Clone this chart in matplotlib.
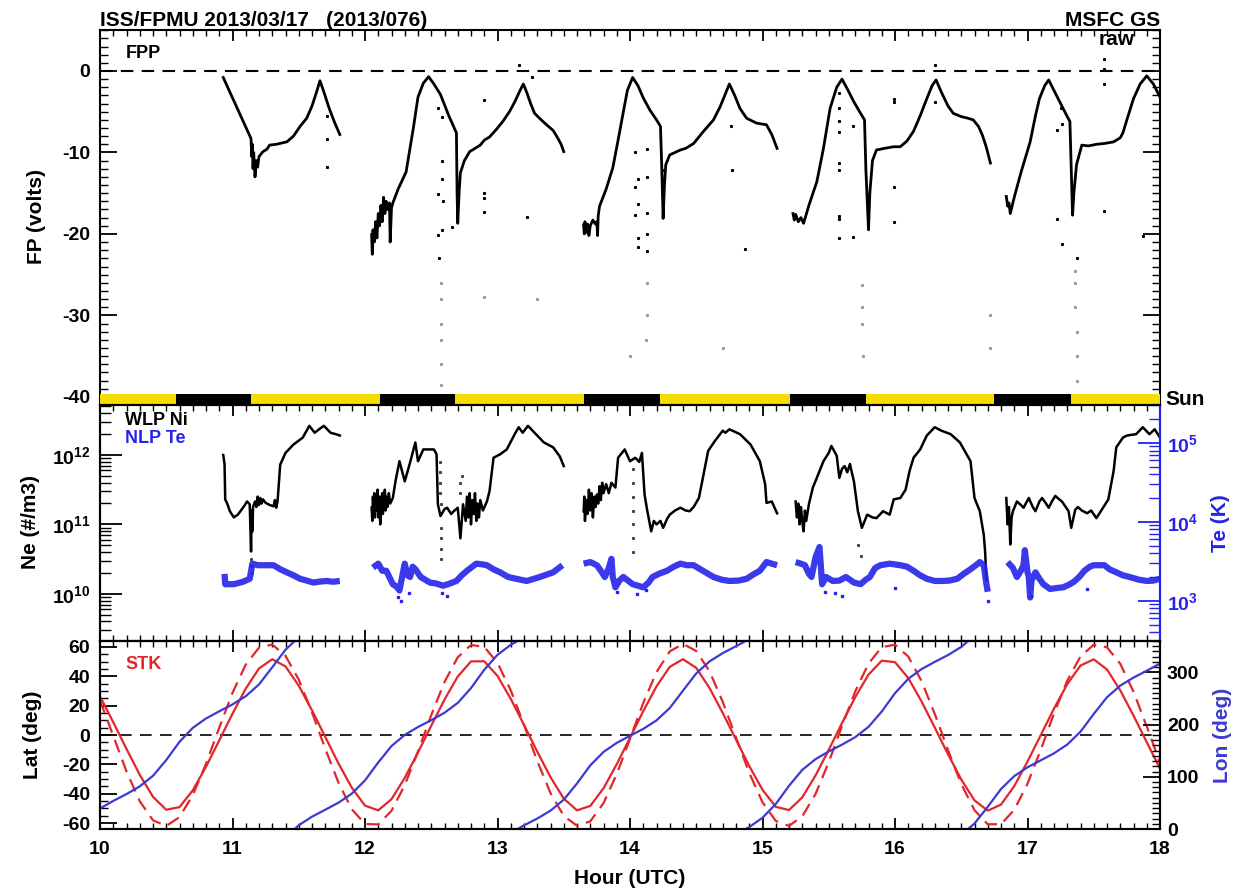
import numpy as np
import matplotlib
matplotlib.use('Agg')
import matplotlib.pyplot as plt
from matplotlib.ticker import MultipleLocator, LogLocator, NullFormatter, FixedLocator

plt.rcParams['font.family'] = ['Liberation Sans', 'DejaVu Sans']
plt.rcParams['font.weight'] = 'bold'
plt.rcParams['axes.unicode_minus'] = False
plt.rcParams['mathtext.fontset'] = 'custom'
plt.rcParams['mathtext.rm'] = 'Liberation Sans:bold'
plt.rcParams['mathtext.it'] = 'Liberation Sans:bold'
plt.rcParams['mathtext.bf'] = 'Liberation Sans:bold'
plt.rcParams['mathtext.default'] = 'rm'

RED = '#e2262b'
BLUE = '#3b3bd0'
TEBLUE = '#2424ea'
YELLOW = '#f7dc00'

# ---------------- floating potential (hour, volts), one list pair per pass
fp_a_t = [10.93, 11.14, 11.145, 11.15, 11.155, 11.16, 11.17, 11.18, 11.19, 11.2, 11.23, 11.26, 11.28, 11.33, 11.41, 11.46, 11.51, 11.56, 11.60, 11.63, 11.66, 11.69, 11.73, 11.77, 11.81]
fp_a_v = [-0.8, -8.3, -10.5, -9.0, -12.0, -10.0, -13.0, -11.0, -11.8, -10.5, -9.9, -9.6, -9.1, -9.0, -8.7, -8.0, -6.8, -5.8, -4.3, -2.8, -1.2, -2.6, -4.6, -6.3, -7.8]
fp_b_t = [12.05, 12.055, 12.06, 12.07, 12.08, 12.09, 12.10, 12.11, 12.12, 12.13, 12.14, 12.15, 12.16, 12.17, 12.185, 12.19, 12.2, 12.21, 12.25, 12.31, 12.365, 12.40, 12.44, 12.48, 12.52, 12.57, 12.63, 12.69, 12.695, 12.70, 12.71, 12.72, 12.75, 12.79, 12.83, 12.87, 12.9, 12.94, 12.99, 13.04, 13.09, 13.13, 13.17, 13.195, 13.22, 13.25, 13.28, 13.33, 13.37, 13.42, 13.45, 13.48, 13.50]
fp_b_v = [-20.1, -22.5, -19.5, -21.0, -18.5, -20.5, -17.5, -19.0, -16.5, -18.5, -15.5, -17.5, -16.0, -17.0, -16.2, -21.0, -16.8, -16.2, -14.5, -12.4, -7.0, -3.2, -1.5, -0.7, -1.6, -2.9, -5.4, -7.6, -15.0, -18.7, -15.0, -12.5, -11.0, -9.9, -9.5, -9.1, -8.5, -8.1, -7.2, -6.2, -5.0, -3.8, -2.4, -1.6, -2.6, -4.0, -5.2, -6.0, -6.6, -7.3, -8.1, -9.0, -9.9]
fp_c_t = [13.65, 13.655, 13.66, 13.67, 13.68, 13.69, 13.70, 13.72, 13.74, 13.75, 13.755, 13.76, 13.77, 13.82, 13.87, 13.91, 13.95, 13.98, 14.02, 14.06, 14.10, 14.15, 14.20, 14.23, 14.24, 14.25, 14.26, 14.27, 14.30, 14.34, 14.38, 14.42, 14.48, 14.55, 14.63, 14.68, 14.72, 14.75, 14.79, 14.83, 14.88, 14.955, 15.03, 15.07, 15.11]
fp_c_v = [-18.9, -20.0, -18.5, -19.8, -18.8, -20.2, -19.0, -18.3, -18.8, -18.5, -20.2, -17.8, -16.6, -14.5, -11.9, -8.5, -5.0, -2.4, -0.8, -1.8, -3.3, -4.8, -6.0, -6.8, -12.0, -18.1, -14.0, -11.5, -10.3, -10.0, -9.7, -9.5, -8.9, -7.5, -6.0, -4.4, -2.8, -1.6, -3.0, -4.6, -5.8, -6.4, -6.6, -7.8, -9.5]
fp_d_t = [15.23, 15.24, 15.25, 15.27, 15.29, 15.31, 15.35, 15.41, 15.46, 15.51, 15.56, 15.60, 15.64, 15.69, 15.74, 15.77, 15.78, 15.80, 15.81, 15.83, 15.86, 15.92, 15.99, 16.04, 16.09, 16.14, 16.19, 16.24, 16.28, 16.31, 16.35, 16.40, 16.44, 16.50, 16.55, 16.59, 16.63, 16.66, 16.69, 16.72]
fp_d_v = [-17.5, -18.3, -17.6, -18.5, -18.0, -18.7, -16.5, -13.6, -9.5, -4.6, -2.0, -1.0, -2.2, -3.8, -5.2, -6.0, -12.0, -19.5, -15.0, -11.0, -9.7, -9.5, -9.3, -9.3, -8.6, -7.4, -5.5, -3.4, -1.8, -1.1, -2.6, -4.3, -5.2, -5.6, -5.8, -6.0, -6.8, -7.9, -9.4, -11.3]
fp_e_t = [16.84, 16.85, 16.86, 16.87, 16.90, 16.95, 17.02, 17.06, 17.09, 17.13, 17.16, 17.20, 17.25, 17.30, 17.32, 17.33, 17.34, 17.35, 17.37, 17.41, 17.46, 17.52, 17.58, 17.65, 17.70, 17.72, 17.75, 17.80, 17.85, 17.90, 17.95, 18.0]
fp_e_v = [-15.4, -16.6, -16.2, -17.5, -15.5, -12.5, -8.7, -5.5, -3.4, -1.8, -1.1, -2.4, -4.0, -5.6, -6.2, -12.0, -17.7, -15.0, -11.5, -9.1, -9.2, -9.0, -8.9, -8.7, -8.2, -7.6, -6.0, -3.4, -1.6, -0.6, -1.6, -3.2]
# isolated points above -25 V (dark) and in the low range (faint)
fp_stray_t = [11.71, 11.71, 11.71, 12.55, 12.58, 12.58, 12.58, 12.55, 12.59, 12.55, 12.58, 12.66, 12.56, 12.9, 12.9, 12.9, 12.9, 13.16, 13.26, 13.22,
              14.04, 14.13, 14.06, 14.13, 14.04, 14.06, 14.13, 14.04, 14.06, 14.13, 14.06, 14.13, 14.24, 14.76, 14.77, 14.87,
              15.58, 15.58, 15.58, 15.58, 15.68, 15.58, 15.58, 15.58, 15.58, 15.58, 15.68, 15.99, 15.99, 15.99, 15.99, 16.30, 16.30,
              17.25, 17.26, 17.22, 17.22, 17.26, 17.37, 17.58, 17.58, 17.58, 17.58, 17.87]
fp_stray_v = [-5.5, -8.4, -11.8, -4.5, -5.6, -11.1, -13.2, -15.1, -16.0, -20.1, -19.5, -19.1, -22.9, -3.6, -15.0, -15.6, -17.3, 0.7, -0.7, -17.9,
              -9.9, -9.6, -13.2, -13.0, -14.3, -16.3, -17.4, -17.7, -20.5, -20.0, -21.6, -22.1, -12.1, -6.7, -12.2, -21.8,
              -2.7, -4.6, -6.2, -7.5, -6.8, -11.3, -12.2, -17.8, -18.2, -20.5, -20.4, -3.4, -3.8, -14.2, -18.5, 0.7, -3.8,
              -4.5, -6.5, -7.2, -18.2, -21.2, -23.0, 1.5, 0.3, -1.6, -17.2, -20.3]
fp_low_t = [12.57, 12.57, 12.57, 12.57, 12.57, 12.57, 12.9, 13.3, 14.13, 14.13, 14.12, 14.0, 14.7, 15.75, 15.75, 15.75, 15.76, 16.72, 16.72, 17.36, 17.36, 17.36, 17.37, 17.37, 17.37]
fp_low_v = [-26.0, -28.0, -31.0, -33.0, -36.0, -38.5, -27.7, -28.0, -26.0, -30.0, -33.0, -35.0, -34.0, -26.3, -29.0, -31.0, -35.0, -30.0, -34.0, -24.5, -26.0, -29.0, -32.0, -35.0, -38.0]

# sunlight bar: edges (hour) and lit flag per interval
sun_edges = [10.0, 10.57, 11.14, 12.11, 12.68, 13.65, 14.23, 15.21, 15.78, 16.75, 17.33, 18.0]
sun_lit = [1, 0, 1, 0, 1, 0, 1, 0, 1, 0, 1]

# ---------------- WLP ion density, log10(#/m3)
ni_a_t = [10.93, 10.94, 10.945, 10.96, 10.98, 11.01, 11.04, 11.06, 11.09, 11.11, 11.13, 11.14, 11.145, 11.15, 11.155, 11.17, 11.18, 11.19, 11.20, 11.21, 11.22, 11.23, 11.25, 11.28, 11.31, 11.32, 11.33, 11.34, 11.36, 11.40, 11.46, 11.53, 11.58, 11.62, 11.66, 11.69, 11.74, 11.78, 11.81]
ni_a_v = [12.0, 11.87, 11.36, 11.30, 11.19, 11.10, 11.14, 11.19, 11.27, 11.33, 11.29, 10.61, 11.2, 10.9, 11.25, 11.33, 11.25, 11.40, 11.28, 11.38, 11.30, 11.36, 11.31, 11.28, 11.26, 11.35, 11.24, 11.33, 11.86, 12.03, 12.15, 12.25, 12.42, 12.32, 12.38, 12.42, 12.32, 12.30, 12.28]
ni_b_t = [12.05, 12.055, 12.06, 12.065, 12.07, 12.075, 12.08, 12.09, 12.095, 12.10, 12.11, 12.115, 12.12, 12.13, 12.135, 12.14, 12.15, 12.155, 12.16, 12.17, 12.18, 12.19, 12.21, 12.23, 12.26, 12.30, 12.34, 12.38, 12.40, 12.44, 12.48, 12.52, 12.54, 12.55, 12.57, 12.60, 12.62, 12.65, 12.67, 12.70, 12.72, 12.74, 12.76, 12.77, 12.78, 12.79, 12.80, 12.81, 12.82, 12.83, 12.84, 12.85, 12.86, 12.87, 12.89, 12.92, 12.94, 12.97, 13.02, 13.07, 13.13, 13.16, 13.19, 13.23, 13.30, 13.35, 13.42, 13.47, 13.50]
ni_b_v = [11.24, 11.05, 11.4, 11.15, 11.45, 11.1, 11.35, 11.2, 11.5, 11.1, 11.4, 11.0, 11.3, 11.45, 11.15, 11.35, 11.5, 11.2, 11.4, 11.25, 11.45, 11.3, 11.38, 11.62, 11.91, 11.62, 11.89, 12.18, 11.91, 12.08, 12.08, 12.08, 12.01, 11.29, 11.12, 11.22, 11.24, 11.15, 11.19, 11.24, 10.80, 11.29, 11.05, 11.4, 11.1, 11.45, 11.0, 11.35, 11.15, 11.45, 11.05, 11.3, 11.1, 11.35, 11.2, 11.33, 11.48, 11.96, 12.01, 12.08, 12.30, 12.40, 12.32, 12.42, 12.28, 12.18, 12.11, 11.98, 11.84]
ni_c_t = [13.65, 13.655, 13.66, 13.67, 13.68, 13.69, 13.70, 13.71, 13.72, 13.73, 13.74, 13.75, 13.76, 13.77, 13.78, 13.79, 13.80, 13.82, 13.84, 13.86, 13.89, 13.91, 13.96, 14.00, 14.04, 14.07, 14.09, 14.11, 14.13, 14.16, 14.18, 14.20, 14.23, 14.25, 14.28, 14.30, 14.34, 14.38, 14.42, 14.45, 14.48, 14.52, 14.55, 14.59, 14.64, 14.70, 14.72, 14.75, 14.83, 14.91, 14.98, 15.02, 15.03, 15.07, 15.11]
ni_c_v = [11.19, 11.4, 11.05, 11.35, 11.15, 11.5, 11.2, 11.45, 11.1, 11.4, 11.25, 11.43, 11.3, 11.55, 11.35, 11.6, 11.45, 11.58, 11.45, 11.6, 11.53, 11.96, 12.08, 11.91, 11.96, 11.90, 12.03, 11.43, 11.2, 10.90, 11.05, 11.0, 11.05, 10.95, 11.08, 11.14, 11.2, 11.24, 11.2, 11.19, 11.25, 11.38, 11.67, 12.06, 12.20, 12.35, 12.32, 12.37, 12.30, 12.15, 11.91, 11.58, 11.31, 11.33, 11.16]
ni_d_t = [15.25, 15.26, 15.27, 15.28, 15.29, 15.30, 15.31, 15.32, 15.33, 15.35, 15.38, 15.41, 15.46, 15.50, 15.52, 15.56, 15.58, 15.60, 15.62, 15.64, 15.66, 15.68, 15.69, 15.72, 15.75, 15.79, 15.83, 15.86, 15.91, 15.96, 15.99, 16.04, 16.08, 16.11, 16.14, 16.19, 16.24, 16.30, 16.35, 16.42, 16.49, 16.57, 16.60, 16.64, 16.67, 16.68, 16.69]
ni_d_v = [11.33, 11.1, 11.3, 11.0, 11.25, 11.05, 10.90, 11.2, 11.05, 11.29, 11.53, 11.67, 11.91, 12.03, 12.13, 11.99, 11.67, 11.80, 11.84, 11.75, 11.87, 11.70, 11.62, 11.19, 10.95, 11.14, 11.10, 11.09, 11.19, 11.14, 11.36, 11.38, 11.50, 11.77, 11.96, 12.08, 12.28, 12.40, 12.35, 12.30, 12.18, 11.91, 11.38, 11.19, 10.85, 10.61, 10.2]
ni_e_t = [16.84, 16.85, 16.86, 16.87, 16.88, 16.89, 16.92, 16.95, 16.97, 17.01, 17.04, 17.06, 17.09, 17.11, 17.14, 17.16, 17.19, 17.21, 17.24, 17.26, 17.31, 17.33, 17.36, 17.38, 17.41, 17.45, 17.48, 17.52, 17.55, 17.57, 17.61, 17.65, 17.67, 17.72, 17.75, 17.82, 17.87, 17.92, 17.96, 18.0]
ni_e_v = [11.38, 11.0, 11.25, 10.71, 11.1, 11.19, 11.33, 11.28, 11.24, 11.38, 11.25, 11.19, 11.33, 11.38, 11.30, 11.24, 11.35, 11.41, 11.36, 11.33, 11.19, 10.95, 11.21, 11.25, 11.20, 11.16, 11.20, 11.09, 11.18, 11.24, 11.36, 11.77, 12.11, 12.25, 12.28, 12.30, 12.40, 12.30, 12.37, 12.25]
ni_stray_t = [11.14, 11.14, 11.145, 12.565, 12.565, 12.565, 12.565, 12.57, 12.57, 12.57, 12.57, 12.57, 14.02, 14.02, 14.02, 14.02, 14.02, 14.02, 14.02, 12.72, 12.72, 12.73, 15.72, 15.74]
ni_stray_v = [10.5, 10.4, 10.3, 11.9, 11.75, 11.6, 11.45, 11.3, 10.95, 10.8, 10.65, 10.5, 11.8, 11.6, 11.4, 11.2, 11.0, 10.8, 10.6, 11.6, 11.45, 11.7, 10.7, 10.55]

# ---------------- NLP electron temperature (K)
te_a_t = [10.94, 10.945, 11.01, 11.08, 11.13, 11.15, 11.19, 11.23, 11.31, 11.36, 11.41, 11.46, 11.51, 11.56, 11.61, 11.66, 11.71, 11.76, 11.81]
te_a_v = [2190, 1620, 1620, 1740, 1900, 2950, 2820, 2820, 2820, 2510, 2290, 2100, 1900, 1800, 1700, 1750, 1780, 1740, 1780]
te_b_t = [12.06, 12.10, 12.13, 12.16, 12.19, 12.21, 12.24, 12.26, 12.28, 12.30, 12.32, 12.34, 12.36, 12.38, 12.42, 12.49, 12.54, 12.59, 12.64, 12.69, 12.73, 12.77, 12.81, 12.84, 12.88, 12.92, 12.97, 13.02, 13.08, 13.14, 13.22, 13.32, 13.42, 13.49]
te_b_v = [2630, 2950, 2400, 2400, 1900, 1620, 1500, 1350, 2000, 2950, 2100, 2000, 2700, 2510, 2000, 1700, 1650, 1550, 1650, 1780, 2100, 2400, 2700, 2950, 2900, 2820, 2500, 2290, 2000, 1900, 1780, 2000, 2290, 2820]
te_c_t = [13.65, 13.70, 13.75, 13.78, 13.81, 13.84, 13.86, 13.87, 13.89, 13.92, 13.95, 14.02, 14.06, 14.10, 14.14, 14.17, 14.22, 14.28, 14.33, 14.38, 14.43, 14.48, 14.55, 14.63, 14.69, 14.75, 14.82, 14.88, 14.94, 14.98, 15.03, 15.07, 15.11]
te_c_v = [2950, 3090, 2820, 2400, 2000, 2600, 3390, 2000, 1480, 1800, 2000, 1620, 1550, 1480, 1700, 2000, 2200, 2400, 2700, 2950, 2820, 2820, 2400, 2000, 1850, 1780, 1800, 1900, 2200, 2400, 3090, 2950, 2820]
te_d_t = [15.25, 15.29, 15.32, 15.35, 15.37, 15.40, 15.43, 15.45, 15.48, 15.53, 15.58, 15.63, 15.69, 15.74, 15.78, 15.81, 15.85, 15.89, 15.96, 16.04, 16.09, 16.14, 16.19, 16.24, 16.30, 16.35, 16.41, 16.47, 16.52, 16.57, 16.62, 16.64, 16.67, 16.69, 16.70]
te_d_v = [3090, 2950, 2820, 2200, 2000, 3550, 4790, 1620, 2000, 1780, 1800, 2000, 1700, 1620, 1850, 2000, 2600, 2820, 2950, 2820, 2700, 2400, 2100, 1900, 1780, 1780, 1800, 1900, 2200, 2510, 2900, 3090, 2820, 1620, 1300]
te_e_t = [16.85, 16.89, 16.92, 16.95, 16.97, 16.98, 17.00, 17.01, 17.02, 17.03, 17.06, 17.09, 17.12, 17.17, 17.22, 17.27, 17.32, 17.35, 17.39, 17.43, 17.47, 17.50, 17.54, 17.58, 17.62, 17.67, 17.72, 17.77, 17.84, 17.90, 17.95, 18.0]
te_e_v = [3090, 2600, 2000, 2400, 2820, 4370, 2300, 2000, 1100, 1800, 2290, 1900, 1620, 1410, 1450, 1480, 1620, 1740, 2000, 2400, 2700, 2820, 2820, 2820, 2500, 2290, 2100, 2000, 1850, 1780, 1800, 1900]
te_stray_t = [12.25, 12.27, 12.33, 12.58, 12.62, 13.9, 14.05, 14.12, 15.47, 15.55, 15.6, 16.0, 16.7, 17.03, 17.45]
te_stray_v = [1100, 1000, 1250, 1250, 1150, 1300, 1200, 1350, 1300, 1250, 1150, 1450, 1000, 1150, 1400]

# ---------------- ephemeris every 0.1 h: ISS lat, STK lat, lon (0-360)
eph_t = [10.0, 10.1, 10.2, 10.3, 10.4, 10.5, 10.6, 10.7, 10.8, 10.9,
         11.0, 11.1, 11.2, 11.3, 11.4, 11.5, 11.6, 11.7, 11.8, 11.9,
         12.0, 12.1, 12.2, 12.3, 12.4, 12.5, 12.6, 12.7, 12.8, 12.9,
         13.0, 13.1, 13.2, 13.3, 13.4, 13.5, 13.6, 13.7, 13.8, 13.9,
         14.0, 14.1, 14.2, 14.3, 14.4, 14.5, 14.6, 14.7, 14.8, 14.9,
         15.0, 15.1, 15.2, 15.3, 15.4, 15.5, 15.6, 15.7, 15.8, 15.9,
         16.0, 16.1, 16.2, 16.3, 16.4, 16.5, 16.6, 16.7, 16.8, 16.9,
         17.0, 17.1, 17.2, 17.3, 17.4, 17.5, 17.6, 17.7, 17.8, 17.9, 18.0]
lat_iss = [26.3, 8.7, -9.5, -27.1, -42.1, -50.9, -49.1, -37.7, -21.6, -3.7,
           14.5, 31.6, 45.3, 51.6, 46.7, 33.6, 16.8, -1.3, -19.4, -35.8,
           -48.1, -51.3, -43.7, -29.2, -11.9, 6.3, 24.1, 39.8, 50.1, 50.2,
           40.2, 24.6, 6.9, -11.3, -28.7, -43.3, -51.3, -48.3, -36.3, -19.9,
           -1.9, 16.2, 33.1, 46.4, 51.6, 45.7, 32.0, 15.0, -3.1, -21.1,
           -37.3, -48.9, -51.1, -42.5, -27.6, -10.1, 8.1, 25.8, 41.1, 50.6,
           49.6, 38.8, 22.9, 5.1, -13.1, -30.3, -44.5, -51.5, -47.4, -34.8,
           -18.1, -0.1, 18.0, 34.6, 47.3, 51.5, 44.6, 30.4, 13.2, -4.9, -22.8]
lat_stk = [23.6, -0.6, -24.8, -45.1, -58.1, -61.9, -55.9, -41.0, -19.6, 5.0,
           28.7, 47.9, 59.5, 61.6, 53.9, 37.7, 15.4, -9.3, -32.5, -50.5,
           -60.6, -60.9, -51.6, -34.1, -11.2, 13.5, 36.1, 52.9, 61.3, 60.0,
           49.1, 30.4, 6.9, -17.7, -39.5, -55.1, -61.8, -58.8, -46.4, -26.6,
           -2.6, 21.8, 42.8, 56.9, 62.0, 57.2, 43.4, 22.6, -1.7, -25.8,
           -45.8, -58.5, -61.9, -55.4, -40.2, -18.5, 6.1, 29.7, 48.6, 59.8,
           61.5, 53.4, 36.8, 14.4, -10.3, -33.4, -51.2, -60.8, -60.7, -51.0,
           -33.2, -10.1, 14.6, 37.0, 53.5, 61.5, 59.7, 48.5, 29.5, 5.8, -18.8]
lon_iss = [39.3, 53.8, 66.9, 81.6, 101.9, 132.0, 166.9, 193.6, 211.6, 225.4,
           238.6, 254.3, 276.9, 309.7, 343.3, 7.2, 23.6, 36.9, 50.4, 67.6,
           93.1, 127.5, 158.9, 180.2, 195.3, 208.4, 222.6, 241.5, 269.8, 304.9,
           333.6, 352.7, 6.9, 20.0, 35.1, 56.1, 87.2, 121.8, 147.5, 164.9,
           178.5, 191.7, 208.0, 231.6, 265.0, 297.9, 320.9, 336.8, 350.0, 3.7,
           21.5, 47.8, 82.7, 113.2, 133.7, 148.5, 161.5, 175.9, 195.6, 224.9,
           260.0, 287.6, 306.1, 320.0, 333.1, 348.6, 10.5, 42.5, 76.6, 101.3,
           118.1, 131.5, 144.9, 161.7, 186.3, 220.3, 252.4, 274.5, 289.9, 303.0, 317.0]

fp_segs = [(fp_a_t, fp_a_v), (fp_b_t, fp_b_v), (fp_c_t, fp_c_v), (fp_d_t, fp_d_v), (fp_e_t, fp_e_v)]
ni_segs = [(ni_a_t, ni_a_v), (ni_b_t, ni_b_v), (ni_c_t, ni_c_v), (ni_d_t, ni_d_v), (ni_e_t, ni_e_v)]
te_segs = [(te_a_t, te_a_v), (te_b_t, te_b_v), (te_c_t, te_c_v), (te_d_t, te_d_v), (te_e_t, te_e_v)]

W, H = 1238, 894
fig = plt.figure(figsize=(W / 100, H / 100), dpi=100)

def box(top, bottom):
    return [100 / W, 1 - bottom / H, 1060 / W, (bottom - top) / H]

ax_fp = fig.add_axes(box(30, 405))
ax_ne = fig.add_axes(box(405, 641))
ax_lat = fig.add_axes(box(641, 829))
ax_te = ax_ne.twinx()
ax_lon = ax_lat.twinx()

def style_x(ax, labels):
    ax.set_xlim(10, 18)
    ax.xaxis.set_major_locator(MultipleLocator(1))
    ax.xaxis.set_minor_locator(MultipleLocator(0.1))
    ax.tick_params(axis='x', which='both', direction='in', top=True, bottom=True,
                   labelbottom=labels, labelsize=14, pad=9)
    ax.tick_params(axis='x', which='major', length=8, width=1.3)
    ax.tick_params(axis='x', which='minor', length=4, width=1.0)

for a in (ax_fp, ax_ne, ax_lat, ax_te, ax_lon):
    for s in a.spines.values():
        s.set_linewidth(1.5)

# ---- FP panel
for t, v in fp_segs:
    ax_fp.plot(t, v, color='black', lw=2.0)
ax_fp.plot(fp_stray_t, fp_stray_v, ls='none', marker='s', ms=1.2, color='black')
ax_fp.plot(fp_low_t, fp_low_v, ls='none', marker='s', ms=1.2, color='#9a9a9a')
ax_fp.axhline(0, color='black', lw=1.5, ls=(0, (6, 4)))
for i, lit in enumerate(sun_lit):
    ax_fp.broken_barh([(sun_edges[i], sun_edges[i + 1] - sun_edges[i])], (-41, 1.4),
                      facecolor=YELLOW if lit else 'black', edgecolor='none', zorder=3)
ax_fp.set_ylim(-41, 5.03)
ax_fp.yaxis.set_major_locator(MultipleLocator(10))
ax_fp.yaxis.set_minor_locator(MultipleLocator(1))
ax_fp.tick_params(axis='y', which='both', direction='in', left=True, right=True, labelsize=14, pad=7)
ax_fp.tick_params(axis='y', which='major', length=12, width=1.3)
ax_fp.tick_params(axis='y', which='minor', length=6, width=1.0)
style_x(ax_fp, False)

# ---- density / temperature panel
for t, v in ni_segs:
    ax_ne.plot(t, 10 ** np.array(v), color='black', lw=1.8)
ax_ne.plot(ni_stray_t, 10 ** np.array(ni_stray_v), ls='none', marker='s', ms=1.2, color='#444444')
ax_ne.set_yscale('log')
ax_ne.set_ylim(10 ** 9.32, 10 ** 12.72)
ax_ne.yaxis.set_major_locator(FixedLocator([1e10, 1e11, 1e12]))
ax_ne.yaxis.set_minor_locator(LogLocator(base=10, subs=np.arange(2, 10)))
ax_ne.yaxis.set_minor_formatter(NullFormatter())
ax_ne.tick_params(axis='y', which='both', direction='in', left=True, right=False, labelsize=14, pad=7)
ax_ne.tick_params(axis='y', which='major', length=16, width=1.3)
ax_ne.tick_params(axis='y', which='minor', length=8, width=1.0)
style_x(ax_ne, False)

for t, v in te_segs:
    ax_te.plot(t, v, color=TEBLUE, lw=4.5, alpha=0.9, solid_capstyle='butt')
ax_te.plot(te_stray_t, te_stray_v, ls='none', marker='s', ms=1.5, color=TEBLUE)
ax_te.set_yscale('log')
ax_te.set_ylim(10 ** 2.49, 10 ** 5.48)
ax_te.yaxis.set_major_locator(FixedLocator([1e3, 1e4, 1e5]))
ax_te.yaxis.set_minor_locator(LogLocator(base=10, subs=np.arange(2, 10)))
ax_te.yaxis.set_minor_formatter(NullFormatter())
ax_te.tick_params(axis='y', which='both', direction='in', colors=TEBLUE, labelsize=14, pad=5)
ax_te.tick_params(axis='y', which='major', length=16, width=1.3)
ax_te.tick_params(axis='y', which='minor', length=8, width=1.0)
ax_te.spines['right'].set_color(TEBLUE)

# ---- lat / lon panel
ax_lat.axhline(0, color='black', lw=1.2, ls=(0, (7, 5)))
ax_lat.plot(eph_t, lat_iss, color=RED, lw=1.6)
ax_lat.plot(eph_t, lat_stk, color=RED, lw=1.6, ls=(0, (6, 3.5)))
ax_lat.set_ylim(-64, 64)
ax_lat.yaxis.set_major_locator(MultipleLocator(20))
ax_lat.yaxis.set_minor_locator(MultipleLocator(5))
ax_lat.tick_params(axis='y', which='both', direction='in', left=True, right=False, labelsize=14, pad=7)
ax_lat.tick_params(axis='y', which='major', length=12, width=1.3)
ax_lat.tick_params(axis='y', which='minor', length=6, width=1.0)
style_x(ax_lat, True)

lon_cont = np.unwrap(np.array(lon_iss), period=360)
for k in range(-1, 6):
    ax_lon.plot(eph_t, lon_cont - 360 * k, color=BLUE, lw=1.6)
ax_lon.set_ylim(0, 360)
ax_lon.yaxis.set_major_locator(MultipleLocator(100))
ax_lon.yaxis.set_minor_locator(MultipleLocator(10))
ax_lon.tick_params(axis='y', which='both', direction='in', labelsize=14, pad=5)
ax_lon.tick_params(axis='y', which='major', length=12, width=1.3)
ax_lon.tick_params(axis='y', which='minor', length=6, width=1.0)
ax_lon.set_xlim(10, 18)

# ---- texts
fig.text(100 / W, 1 - 26 / H, 'ISS/FPMU 2013/03/17   (2013/076)', fontsize=15, fontweight='bold', va='baseline')
fig.text(1160 / W, 1 - 26 / H, 'MSFC GS', fontsize=15, fontweight='bold', va='baseline', ha='right')
fig.text(1135 / W, 1 - 45 / H, 'raw', fontsize=15, fontweight='bold', va='baseline', ha='right')
fig.text(126 / W, 1 - 58 / H, 'FPP', fontsize=13, fontweight='bold', va='baseline')
fig.text(1165 / W, 1 - 405 / H, 'Sun', fontsize=15, fontweight='bold', va='baseline')
fig.text(125 / W, 1 - 425 / H, 'WLP Ni', fontsize=13, fontweight='bold', va='baseline')
fig.text(125 / W, 1 - 443 / H, 'NLP Te', fontsize=13, fontweight='bold', va='baseline', color=TEBLUE)
fig.text(125 / W, 1 - 669 / H, 'STK', fontsize=13, fontweight='bold', va='baseline', color=RED)
fig.text(37 / W, 1 - 217 / H, 'FP (volts)', fontsize=15, fontweight='bold', rotation=90, ha='center', va='center')
fig.text(30 / W, 1 - 522 / H, 'Ne (#/m3)', fontsize=15, fontweight='bold', rotation=90, ha='center', va='center')
fig.text(33 / W, 1 - 735 / H, 'Lat (deg)', fontsize=15, fontweight='bold', rotation=90, ha='center', va='center')
fig.text(1220 / W, 1 - 523 / H, 'Te (K)', fontsize=15, fontweight='bold', rotation=90, ha='center', va='center', color=TEBLUE)
fig.text(1222 / W, 1 - 735 / H, 'Lon (deg)', fontsize=15, fontweight='bold', rotation=90, ha='center', va='center', color=BLUE)
fig.text(630 / W, 1 - 878 / H, 'Hour (UTC)', fontsize=15, fontweight='bold', ha='center', va='center')

fig.savefig('out.png', dpi=100)
